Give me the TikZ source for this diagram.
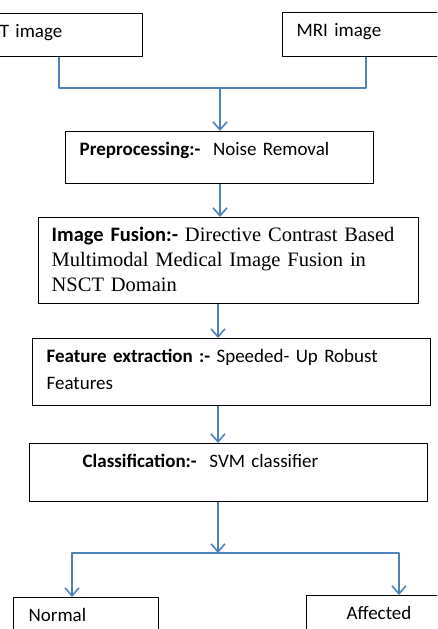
\documentclass[tikz,border=0pt]{standalone}
\usepackage{fontspec}
\setmainfont{Carlito}
\newfontfamily\timesfont{Liberation Serif}
\usetikzlibrary{arrows.meta}
\definecolor{linkblue}{RGB}{79,129,189}
\begin{document}
\begin{tikzpicture}[x=1pt, y=-1pt, line join=round, >={Straight Barb[length=8pt,width=14pt]},
  box/.style={draw, line width=1.3pt, anchor=north west, inner xsep=14pt, inner ysep=0pt, text height=24pt, align=left, font=\fontsize{19}{27}\selectfont},
  link/.style={draw=linkblue, line width=1.6pt}]
\useasboundingbox (0,0) rectangle (437,629);
\clip (0,0) rectangle (437,629);
\node[box, text width=139pt, text depth=19pt] (ct) at (-25,13) {CT image};
\node[box, text width=139pt, text depth=20pt] (mri) at (282,12) {MRI image};
\node[box, text width=280pt, text depth=28pt] (pre) at (65,131) {\textbf{Preprocessing:-} \ Noise Removal};
\node[box, text width=354pt, text depth=62pt, inner xsep=13pt, font=\fontsize{20.5}{25}\selectfont] (fus) at (38,217) {\textbf{Image Fusion:-} \timesfont Directive Contrast Based\\Multimodal Medical Image Fusion in\\NSCT Domain};
\node[box, text width=370pt, text depth=43pt] (feat) at (32,338) {\textbf{Feature extraction :-} Speeded- Up Robust\\Features};
\node[box, text width=370pt, text depth=34pt] (cls) at (29,443) {\hspace*{39pt}\textbf{Classification:-} \ SVM classifier};
\node[box, text width=115pt, text depth=30pt, inner xsep=15pt] (normal) at (13,597) {Normal};
\node[box, text width=122pt, text depth=30pt] (affected) at (306,595) {\hspace*{26pt}Affected};
\coordinate (j1) at (220,88);
\coordinate (j2) at (218,553);
\draw[link] (ct.south) |- (j1) -| (mri.south);
\draw[link, ->] (j1) -- (pre.north -| j1);
\draw[link, ->] (pre.south -| j1) -- (fus.north -| j1);
\draw[link, ->] (fus.south -| j2) -- (feat.north -| j2);
\draw[link, ->] (feat.south -| j2) -- (cls.north -| j2);
\draw[link, ->] (cls.south -| j2) -- (j2);
\draw[link, ->] (j2) -| (normal.north -| 72,0);
\draw[link, ->] (j2) -| (affected.north -| 399,0);
\end{tikzpicture}
\end{document}
